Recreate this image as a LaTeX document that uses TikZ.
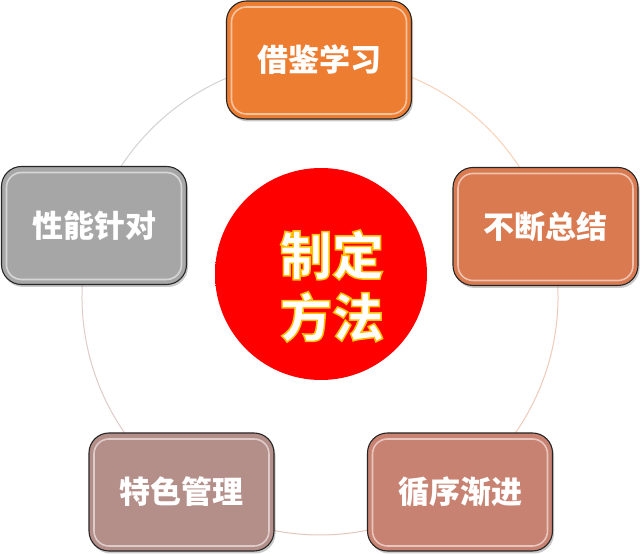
\documentclass[tikz,border=0pt]{standalone}
\usepackage{fontspec}
\setmainfont{Noto Sans CJK SC}
\newfontfamily\cjk{Noto Sans CJK SC}
\usetikzlibrary{shadows}
\definecolor{cA}{HTML}{ED7D31}
\definecolor{cB}{HTML}{DA7A50}
\definecolor{cC}{HTML}{C88272}
\definecolor{cD}{HTML}{B48E88}
\definecolor{cE}{HTML}{A6A6A6}
\pgfdeclareradialshading{redball}{\pgfpoint{-4bp}{4bp}}{color(0bp)=(red);color(40bp)=(red);color(47bp)=(red!90!black);color(52bp)=(red!72!black);color(60bp)=(red!65!black)}
\newcommand\outlinetxt[1]{{\color{white}\special{pdf:literal direct 2 Tr 1.5 w 1 0.75 0 RG}#1\special{pdf:literal direct 0 Tr}}}
\tikzset{
  petal/.style={rounded corners=20pt, minimum width=185pt, minimum height=118pt,
    draw=black!85, line width=1.1pt, fill=#1, text=white,
    font=\cjk\bfseries\fontsize{31}{36}\selectfont,
    drop shadow={shadow xshift=1.5pt, shadow yshift=-2.5pt, opacity=0.35, fill=black!60},
    path picture={\draw[white, opacity=0.55, line width=1.6pt, rounded corners=15pt]
      ([shift={(5pt,5pt)}]path picture bounding box.south west) rectangle
      ([shift={(-5pt,-6pt)}]path picture bounding box.north east);}},
  ringarc/.style={line width=1pt, draw=#1}
}
\begin{document}
\begin{tikzpicture}[x=1pt,y=1pt]
\useasboundingbox (0,0) rectangle (640,554);
\fill[white] (0,0) rectangle (640,554);
\coordinate (ring) at (320,257);
% ring arcs
\draw[ringarc=cA!35!white] (ring) ++(90:238pt) arc[start angle=90, end angle=18, radius=238pt];
\draw[ringarc=cB!40!white] (ring) ++(18:238pt) arc[start angle=18, end angle=-54, radius=238pt];
\draw[ringarc=cC!45!white] (ring) ++(-54:238pt) arc[start angle=-54, end angle=-126, radius=238pt];
\draw[ringarc=cD!45!white] (ring) ++(-126:238pt) arc[start angle=-126, end angle=-198, radius=238pt];
\draw[ringarc=cE!50!white] (ring) ++(162:238pt) arc[start angle=162, end angle=90, radius=238pt];
% center
\node[circle, minimum size=212pt, inner sep=0pt, shading=redball] (M) at (321,280) {};
\node[font=\cjk\bfseries\fontsize{52}{62}\selectfont, align=center, inner sep=0pt] (T) at (332,268) {\outlinetxt{制定}\\\outlinetxt{方法}};
% boxes
\node[petal=cA] (A) at (319,494) {借鉴学习};
\node[petal=cB] (B) at (545.5,327.5) {不断总结};
\node[petal=cC] (C) at (460,62) {循序渐进};
\node[petal=cD] (D) at (181.5,62) {特色管理};
\node[petal=cE] (E) at (94,328.5) {性能针对};
\end{tikzpicture}
\end{document}
